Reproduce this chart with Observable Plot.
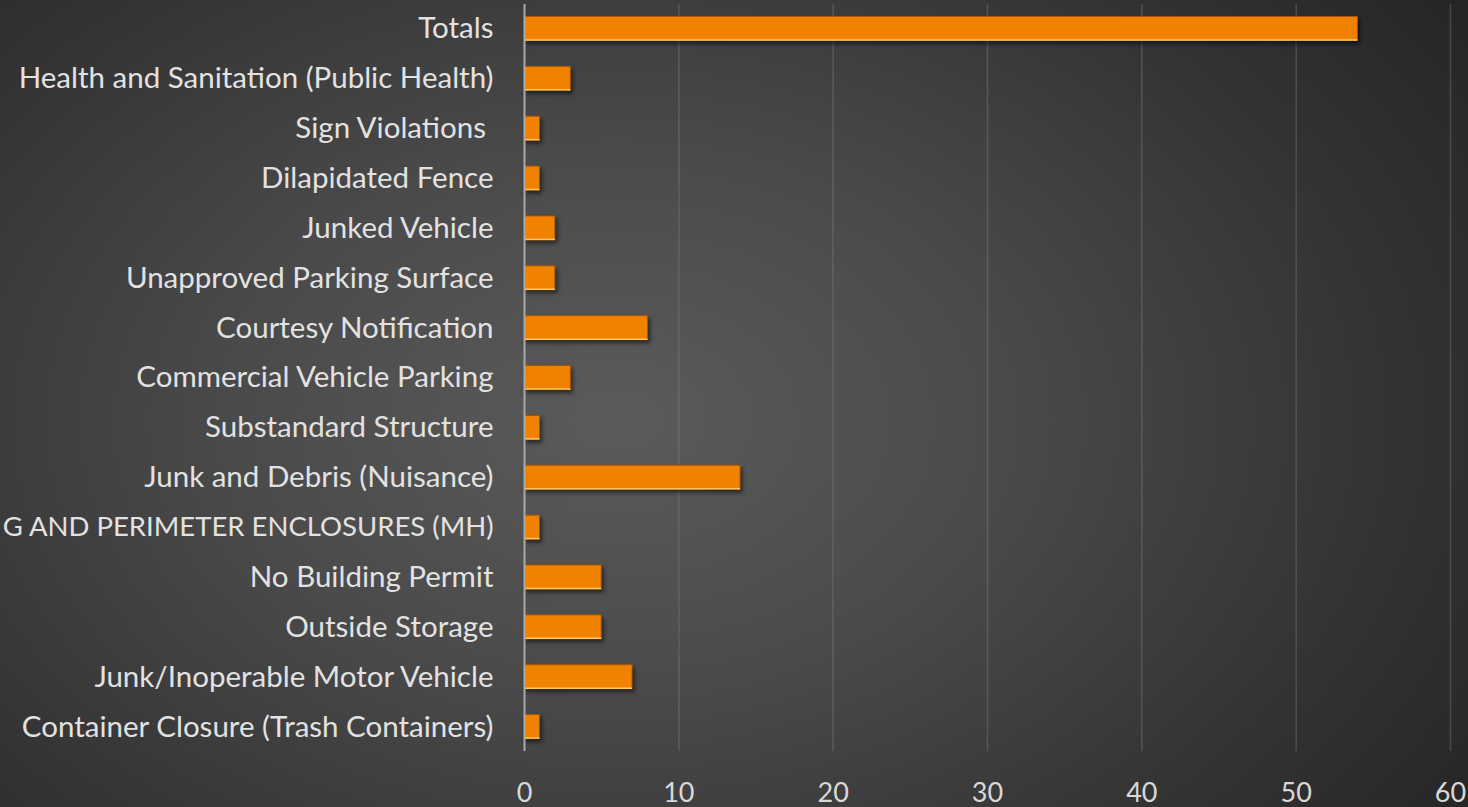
<!DOCTYPE html>
<html>
<head>
<meta charset="utf-8">
<script src="https://cdn.jsdelivr.net/npm/d3@7"></script>
<script src="https://cdn.jsdelivr.net/npm/@observablehq/plot@0.6"></script>
<style>
  html, body { margin: 0; padding: 0; width: 1468px; height: 807px; overflow: hidden; }
  body {
    background: radial-gradient(ellipse 75% 95% at 42% 52%, #5b5b5b 0%, #4a4a4a 35%, #333 70%, #222 100%);
  }
  #chart svg { display: block; background: transparent !important; }
  .bars rect { filter: drop-shadow(2px 3px 2px rgba(0,0,0,0.55)); }
</style>
</head>
<body>
<div id="chart"></div>
<script>
const categories = [
  "Totals",
  "Health and Sanitation (Public Health)",
  "Sign Violations ",
  "Dilapidated Fence",
  "Junked Vehicle",
  "Unapproved Parking Surface",
  "Courtesy Notification",
  "Commercial Vehicle Parking",
  "Substandard Structure",
  "Junk and Debris (Nuisance)",
  "G AND PERIMETER ENCLOSURES (MH)",
  "No Building Permit",
  "Outside Storage",
  "Junk/Inoperable Motor Vehicle",
  "Container Closure (Trash Containers)"
];
const counts = [54, 3, 1, 1, 2, 2, 8, 3, 1, 14, 1, 5, 5, 7, 1];
const xTicks = [0, 10, 20, 30, 40, 50, 60];

const data = categories.map((c, i) => ({category: c, count: counts[i]}));

const chart = Plot.plot({
  width: 1468,
  height: 807,
  marginTop: 4,
  marginBottom: 56,
  marginLeft: 524,
  marginRight: 18,
  style: {background: "transparent", fontFamily: "Lato, sans-serif", color: "#dcdcdc"},
  x: {domain: [0, 60], ticks: xTicks, label: null},
  y: {domain: categories, paddingInner: 0.52, paddingOuter: 0.25, round: false, label: null},
  marks: [
    Plot.gridX(xTicks.filter(d => d > 0), {stroke: "#8a8a8a", strokeOpacity: 0.35, strokeWidth: 1.5}),
    Plot.axisX({ticks: xTicks, tickSize: 0, tickPadding: 31, fontSize: 27, fill: "#d8d8d8", label: null}),
    Plot.axisY({tickSize: 0, tickPadding: 31, fontSize: d => (d === categories[10] ? 27.5 : 29.5), fill: "#e2e2e2", label: null}),
    Plot.barX(data, {y: "category", x: "count", fill: "#f18200", stroke: "#a85600", strokeWidth: 1, className: "bars"}),
    Plot.ruleY(data, {y: "category", x1: 0, x2: "count", dy: 11, stroke: "#ffc766", strokeWidth: 1.5}),
    Plot.ruleX([0], {stroke: "#a8a8a8", strokeWidth: 2})
  ]
});
document.getElementById("chart").appendChild(chart);
</script>
</body>
</html>
